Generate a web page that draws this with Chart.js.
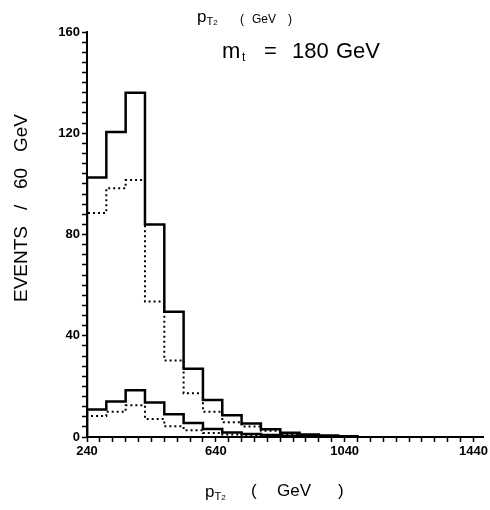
<!DOCTYPE html>
<html>
<head>
<meta charset="utf-8">
<script src="https://cdn.jsdelivr.net/npm/chart.js@4.4.0/dist/chart.umd.min.js"></script>
<style>
  html, body { margin: 0; padding: 0; background: #fff; }
  canvas { display: block; }
</style>
</head>
<body>
<canvas id="myChart" width="490" height="510"></canvas>
<script>
// histogram bins: 60 GeV wide, starting at 240 GeV
var binStart = 240;
var binWidth = 60;

// events per bin
var upperSolid  = [102.5, 120.5, 136, 84, 49.5, 27, 14.6, 8.6, 5.3, 3.1, 1.7, 1.0, 0.6, 0.3];
var upperDotted = [88.5, 98.3, 101.5, 53.5, 30.2, 17.3, 10, 5.8, 4.1, 2.5, 1.2, 0.7, 0.4, 0.2];
var lowerSolid  = [10.9, 14, 18.5, 13.6, 9, 5.5, 3.2, 1.8, 1.2, 0.8, 0.5, 0.3, 0.2];
var lowerDotted = [8.3, 10, 12.5, 7.1, 4.2, 2.7, 1.6, 1.0, 0.6, 0.4, 0.2];

// axis tick labels
var xTickLabels = [240, 640, 1040, 1440];
var yTickLabels = [0, 40, 80, 120, 160];

var FONT = '"Liberation Sans", sans-serif';

function steps(values) {
    var pts = [{ x: binStart, y: 0 }];
    values.forEach(function (v, i) {
        pts.push({ x: binStart + i * binWidth, y: v });
    });
    pts.push({ x: binStart + values.length * binWidth, y: values[values.length - 1] });
    pts.push({ x: binStart + values.length * binWidth, y: 0 });
    return pts;
}

function histo(values, dashed) {
    return {
        data: steps(values),
        stepped: 'before',
        borderColor: '#000',
        borderWidth: dashed ? 2 : 2.5,
        borderDash: dashed ? [2, 3] : [],
        pointRadius: 0,
        fill: false
    };
}

// draws p_T2 with its subscripts, returns the x where it ends
function drawPT2(c, x, y, size) {
    c.font = size + 'px ' + FONT;
    c.fillText('p', x, y);
    x += c.measureText('p').width;
    c.font = Math.round(size * 0.62) + 'px ' + FONT;
    c.fillText('T', x, y + size * 0.15);
    x += c.measureText('T').width;
    c.font = Math.round(size * 0.45) + 'px ' + FONT;
    c.fillText('2', x, y + size * 0.2);
    x += c.measureText('2').width;
    return x;
}

var textPlugin = {
    id: 'texts',
    afterDraw: function (chart) {
        var c = chart.ctx;
        c.save();
        c.fillStyle = '#000';
        c.textBaseline = 'alphabetic';
        c.textAlign = 'left';

        // top label
        drawPT2(c, 197, 22, 17);
        c.font = '12px ' + FONT;
        c.fillText('(', 240, 23);
        c.fillText('GeV', 252, 23);
        c.fillText(')', 288, 23);

        // mass annotation
        c.font = '22px ' + FONT;
        c.fillText('m', 222, 58);
        c.font = '12px ' + FONT;
        c.fillText('t', 242, 61);
        c.font = '22px ' + FONT;
        c.fillText('=', 264, 58);
        c.fillText('180', 292, 58);
        c.fillText('GeV', 336, 58);

        // x axis title
        drawPT2(c, 205, 497, 17);
        c.font = '17px ' + FONT;
        c.fillText('(', 251, 496);
        c.fillText('GeV', 277, 496);
        c.fillText(')', 338, 496);

        // y axis title
        c.translate(27, 208);
        c.rotate(-Math.PI / 2);
        c.textAlign = 'center';
        c.font = '19px ' + FONT;
        c.fillText('EVENTS   /   60   GeV', 0, 0);
        c.restore();
    }
};

function minorTicks(from, to, step) {
    var t = [];
    for (var v = from; v <= to; v += step) t.push({ value: v });
    return t;
}

var ctx = document.getElementById('myChart').getContext('2d');
var chart = new Chart(ctx, {
    type: 'line',
    data: {
        datasets: [
            histo(upperSolid, false),
            histo(upperDotted, true),
            histo(lowerSolid, false),
            histo(lowerDotted, true)
        ]
    },
    options: {
        responsive: false,
        animation: false,
        layout: { padding: { top: 32, right: 3, left: 0, bottom: 0 } },
        plugins: { legend: { display: false }, tooltip: { enabled: false } },
        scales: {
            x: {
                type: 'linear',
                min: 240,
                max: 1470,
                border: { color: '#000', width: 2 },
                grid: { drawOnChartArea: false, tickLength: 5, color: '#000', tickWidth: 1.5 },
                afterBuildTicks: function (s) { s.ticks = minorTicks(240, 1440, 40); },
                afterFit: function (s) { s.height = 73; },
                ticks: {
                    autoSkip: false,
                    maxRotation: 0,
                    color: '#000',
                    padding: 2,
                    font: { family: FONT, size: 13, weight: 'bold' },
                    callback: function (v) { return xTickLabels.indexOf(v) >= 0 ? String(v) : ''; }
                }
            },
            y: {
                min: 0,
                max: 160,
                border: { color: '#000', width: 2 },
                grid: { drawOnChartArea: false, tickLength: 5, color: '#000', tickWidth: 1.5 },
                afterBuildTicks: function (s) { s.ticks = minorTicks(0, 160, 4); },
                afterFit: function (s) { s.width = 87; },
                ticks: {
                    autoSkip: false,
                    color: '#000',
                    padding: 2,
                    font: { family: FONT, size: 13, weight: 'bold' },
                    callback: function (v) { return yTickLabels.indexOf(v) >= 0 ? String(v) : ''; }
                }
            }
        }
    },
    plugins: [textPlugin]
});
</script>
</body>
</html>
